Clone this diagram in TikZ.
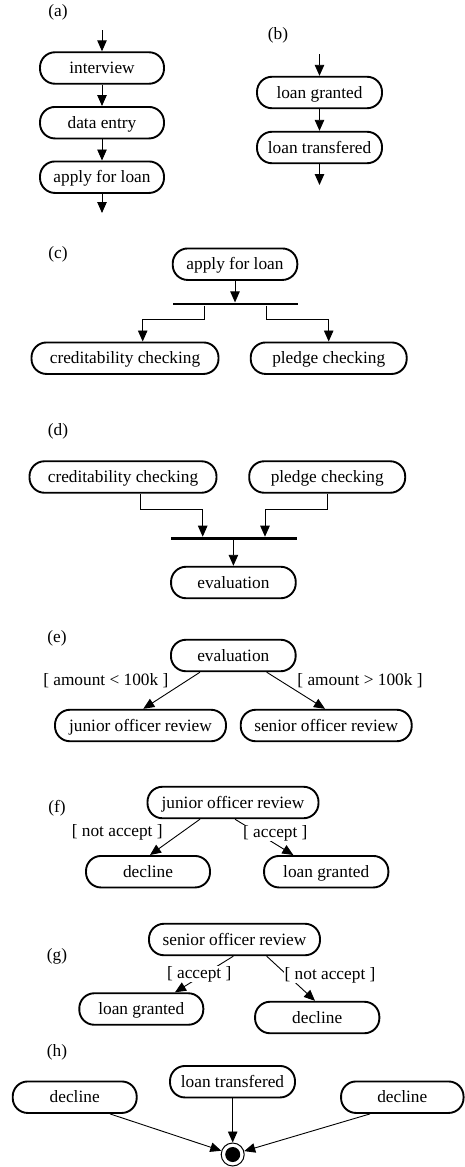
\documentclass[tikz,border=0pt]{standalone}
\usepackage{fontspec}
\setmainfont{Liberation Serif}
\usetikzlibrary{arrows.meta,calc}
\begin{document}
\begin{tikzpicture}[x=1pt,y=-1pt,
  every node/.style={font=\fontsize{17.3}{20}\selectfont},
  act/.style={draw, line width=1.9pt, rounded corners=15pt, minimum height=31.5pt,
    minimum width=124pt, inner sep=0pt, text height=11.5pt, text depth=0.5pt},
  tag/.style={inner sep=1pt, text height=11.5pt, text depth=3pt},
  guard/.style={tag, fill=white},
  flow/.style={line width=0.9pt, -{Triangle[length=11pt,width=9.5pt]}},
  bar/.style={fill=black, inner sep=0pt, minimum height=2.8pt},
  final/.style={circle, draw, line width=1pt, minimum size=23pt, inner sep=0pt,
    path picture={\fill (path picture bounding box.center) circle (7.5pt);}}
]
\useasboundingbox (0,0) rectangle (464,1167);

% (a) sequence of actions
\node[tag] (la) at (58,12) {(a)};
\node[act] (a1) at (102,68) {interview};
\node[act] (a2) at (102,122.7) {data entry};
\node[act] (a3) at (102,177.2) {apply for loan};
\coordinate (ain) at (102,30);
\coordinate (aout) at (102,213);
\draw[flow] (ain) -- (a1);
\draw[flow] (a1) -- (a2);
\draw[flow] (a2) -- (a3);
\draw[flow] (a3) -- (aout);

% (b) granting and transfer
\node[tag] (lb) at (278,35) {(b)};
\node[act, minimum width=125pt] (b1) at (319.5,92.5) {loan granted};
\node[act, minimum width=125pt] (b2) at (319.5,147.5) {loan transfered};
\coordinate (bin) at (319.5,54);
\coordinate (bout) at (319.5,185);
\draw[flow] (bin) -- (b1);
\draw[flow] (b1) -- (b2);
\draw[flow] (b2) -- (bout);

% (c) fork
\node[tag] (lc) at (58,254) {(c)};
\node[act, minimum width=124.6pt] (c1) at (235,264.2) {apply for loan};
\node[bar, minimum width=125pt] (cbar) at (235.2,304) {};
\node[act, minimum width=187pt] (c2) at (125,358.2) {creditability checking};
\node[act, minimum width=156pt] (c3) at (328.7,358.2) {pledge checking};
\draw[flow] (c1.south) -- (c1.south |- cbar.north);
\draw[flow] ([xshift=-31pt]cbar.south) -- ++(0,14) -| ([xshift=17.7pt]c2.north);
\draw[flow] ([xshift=31.5pt]cbar.south) -- ++(0,14) -| (c3.north);

% (d) join
\node[tag] (ld) at (58,431) {(d)};
\node[act, minimum width=187pt] (d1) at (123,477) {creditability checking};
\node[act, minimum width=156pt] (d2) at (327.2,477) {pledge checking};
\node[bar, minimum width=125.7pt] (dbar) at (233.8,538.3) {};
\node[act, minimum width=124.7pt] (d3) at (233.4,582.5) {evaluation};
\draw[flow] ([xshift=17.7pt]d1.south) -- ++(0,15.6) -| ([xshift=-31.1pt]dbar.north);
\draw[flow] (d2.south) -- ++(0,15.6) -| ([xshift=31.2pt]dbar.north);
\draw[flow] (dbar.south -| d3.north) -- (d3.north);

% (e) decision on amount
\node[tag] (le) at (57,638) {(e)};
\node[act, minimum width=124.7pt] (e1) at (233.3,655.5) {evaluation};
\node[act, minimum width=171pt] (e2) at (140.5,725.5) {junior officer review};
\node[act, minimum width=171pt] (e3) at (326.2,725.5) {senior officer review};
\draw[flow] ([xshift=-33.3pt]e1.south) -- ([xshift=2.8pt]e2.north);
\draw[flow] ([xshift=33.4pt]e1.south) -- ([xshift=-1.2pt]e3.north);
\node[guard] (ge1) at (105.8,681.7) {[ amount < 100k ]};
\node[guard] (ge2) at (360,681.7) {[ amount > 100k ]};

% (f) junior officer decision
\node[tag] (lf) at (57,808) {(f)};
\node[act, minimum width=171pt] (f1) at (233,802.5) {junior officer review};
\node[act] (f2) at (148,871.7) {decline};
\node[act, minimum width=124.3pt] (f3) at (326.2,871.7) {loan granted};
\draw[flow] ([xshift=-33pt]f1.south) -- ([xshift=2pt]f2.north);
\draw[flow] ([xshift=2pt]f1.south) -- ([xshift=-32.9pt]f3.north);
\node[guard] (gf1) at (117.2,832) {[ not accept ]};
\node[guard] (gf2) at (275.3,833) {[ accept ]};

% (g) senior officer decision
\node[act, minimum width=171pt] (g1) at (234.5,939.5) {senior officer review};
\node[tag] (lg) at (57,956) {(g)};
\node[act] (g2) at (141.3,1009) {loan granted};
\node[act, minimum width=124.3pt] (g3) at (317.2,1017.5) {decline};
\draw[flow] ([xshift=-1.2pt]g1.south) -- ([xshift=33.7pt]g2.north);
\draw[flow] ([xshift=32.2pt]g1.south) -- ([xshift=-2.2pt]g3.north);
\node[guard] (gg1) at (199.2,974.2) {[ accept ]};
\node[guard] (gg2) at (330,975) {[ not accept ]};

% (h) final state
\node[tag] (lh) at (57,1052.5) {(h)};
\node[act, minimum width=125pt] (h1) at (232.5,1081.7) {loan transfered};
\node[act] (h2) at (74.7,1097.2) {decline};
\node[act, minimum width=122.5pt] (h3) at (402.3,1097.2) {decline};
\node[final] (fin) at (232.7,1154.5) {};
\draw[flow] (h1.south -| fin.north) -- (fin);
\draw[flow] ([xshift=35.3pt]h2.south) -- (fin);
\draw[flow] ([xshift=-32.3pt]h3.south) -- (fin);
\end{tikzpicture}
\end{document}
